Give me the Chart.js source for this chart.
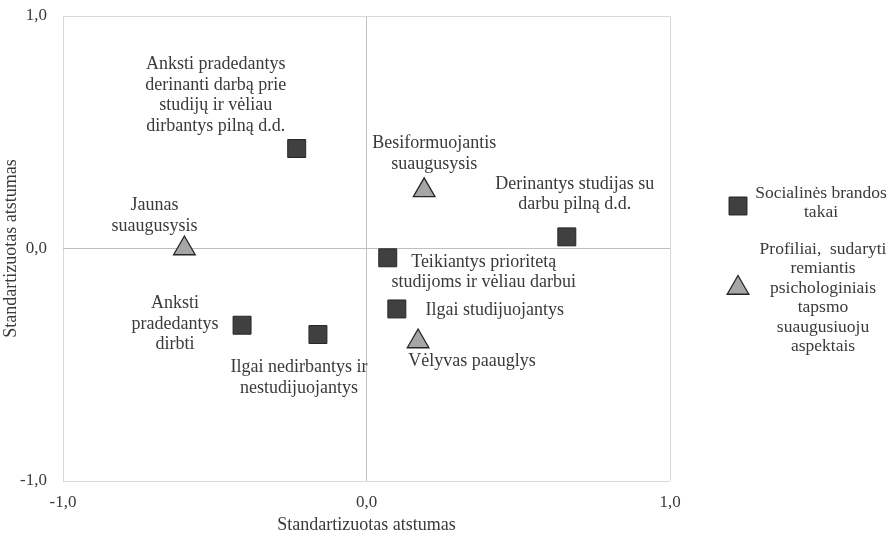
<!DOCTYPE html>
<html>
<head>
<meta charset="utf-8">
<script src="https://cdn.jsdelivr.net/npm/chart.js@4/dist/chart.umd.min.js"></script>
<style>
  html, body { margin: 0; padding: 0; background: #ffffff; }
  #wrap { width: 895px; height: 535px; position: relative; }
</style>
</head>
<body>
<div id="wrap"><canvas id="c" width="895" height="535"></canvas></div>
<script>
// Social maturity pathways (squares)
const socialNames = [
  "Anksti pradedantys\nderinanti darbą prie\nstudijų ir vėliau\ndirbantys pilną d.d.",
  "Derinantys studijas su\ndarbu pilną d.d.",
  "Teikiantys prioritetą\nstudijoms ir vėliau darbui",
  "Ilgai studijuojantys",
  "Anksti\npradedantys\ndirbti",
  "Ilgai nedirbantys ir\nnestudijuojantys"
];
const socialX = [-0.23, 0.66, 0.07, 0.10, -0.41, -0.16];
const socialY = [0.43, 0.05, -0.04, -0.26, -0.33, -0.37];

// Profiles based on psychological aspects of becoming an adult (triangles)
const psychNames = [
  "Jaunas\nsuaugusysis",
  "Besiformuojantis\nsuaugusysis",
  "Vėlyvas paauglys"
];
const psychX = [-0.60, 0.19, 0.17];
const psychY = [0.00, 0.25, -0.40];

const seriesNames = [
  "Socialinės brandos\ntakai",
  "Profiliai,  sudaryti\nremiantis\npsichologiniais\ntapsmo\nsuaugusiuoju\naspektais"
];
const axisTicks = [-1, 0, 1];
const axisTitle = "Standartizuotas atstumas";

// Label placement: pixel offset of the first text line centre from its point
const socialLabelOffsets = [[-81, -84], [8, -53], [96, 4], [98, 1], [-67, -22], [-19, 33]];
const psychLabelOffsets = [[-30, -43], [10, -47], [54, 20]];

const FONT = "'Liberation Serif', 'Times New Roman', serif";
const TEXT = "#3a3a3a";

const toPoints = (xs, ys) => xs.map((x, i) => ({ x: x, y: ys[i] }));

const pointLabels = {
  id: 'pointLabels',
  afterDatasetsDraw(chart) {
    const ctx = chart.ctx;
    ctx.save();
    ctx.font = "18px " + FONT;
    ctx.fillStyle = TEXT;
    ctx.textAlign = 'center';
    ctx.textBaseline = 'middle';
    const groups = [[socialNames, socialLabelOffsets, 0], [psychNames, psychLabelOffsets, 1]];
    groups.forEach(([names, offs, di]) => {
      const meta = chart.getDatasetMeta(di);
      meta.data.forEach((el, i) => {
        const lines = names[i].split("\n");
        lines.forEach((ln, k) => {
          ctx.fillText(ln, el.x + offs[i][0], el.y + offs[i][1] + k * 20.6);
        });
      });
    });
    ctx.restore();
  }
};

const sideLegend = {
  id: 'sideLegend',
  afterDraw(chart) {
    const ctx = chart.ctx;
    const a = chart.chartArea;
    ctx.save();
    const items = [
      { ds: chart.data.datasets[0], mx: a.right + 68, my: a.top + 190, tx: a.right + 151, ty: a.top + 177, lh: 19.5 },
      { ds: chart.data.datasets[1], mx: a.right + 68, my: a.top + 272, tx: a.right + 153, ty: a.top + 233, lh: 19.5 }
    ];
    items.forEach((it, idx) => {
      ctx.fillStyle = it.ds.backgroundColor;
      ctx.strokeStyle = it.ds.borderColor;
      ctx.lineWidth = it.ds.borderWidth;
      Chart.helpers.drawPoint(ctx, {
        pointStyle: it.ds.pointStyle,
        radius: it.ds.pointRadius,
        borderWidth: it.ds.borderWidth,
        rotation: 0
      }, it.mx, it.my);
      ctx.font = "17.5px " + FONT;
      ctx.fillStyle = TEXT;
      ctx.textAlign = 'center';
      ctx.textBaseline = 'middle';
      seriesNames[idx].split("\n").forEach((ln, k) => ctx.fillText(ln, it.tx, it.ty + k * it.lh));
    });
    ctx.restore();
  }
};

const gridColor = (c) => c.tick && c.tick.value === 0 ? '#bfbfbf' : '#d9d9d9';

new Chart(document.getElementById('c'), {
  type: 'scatter',
  data: {
    datasets: [
      {
        label: seriesNames[0],
        data: toPoints(socialX, socialY),
        pointStyle: 'rect',
        pointRadius: 12.7,
        pointHoverRadius: 12.7,
        backgroundColor: '#404040',
        borderColor: '#262626',
        borderWidth: 1
      },
      {
        label: seriesNames[1],
        data: toPoints(psychX, psychY),
        pointStyle: 'triangle',
        pointRadius: 12.5,
        pointHoverRadius: 12.5,
        backgroundColor: '#a6a6a6',
        borderColor: '#262626',
        borderWidth: 1.3
      }
    ]
  },
  options: {
    responsive: false,
    animation: false,
    events: [],
    layout: { padding: { left: 0, top: 16, right: 225, bottom: 0 } },
    plugins: { legend: { display: false }, tooltip: { enabled: false } },
    scales: {
      x: {
        type: 'linear',
        min: -1, max: 1,
        afterBuildTicks: (s) => { s.ticks = axisTicks.map(v => ({ value: v })); },
        afterFit: (s) => { s.height = 54; s.paddingLeft = 0; s.paddingRight = 0; },
        ticks: {
          padding: 11,
          color: TEXT,
          font: { family: FONT, size: 17 },
          callback: (v) => v.toFixed(1).replace('.', ',')
        },
        grid: { color: gridColor, lineWidth: 1, drawTicks: false },
        border: { display: false },
        title: {
          display: true, text: axisTitle, color: TEXT,
          font: { family: FONT, size: 18 },
          padding: { top: 0, bottom: -1 }
        }
      },
      y: {
        type: 'linear',
        min: -1, max: 1,
        afterBuildTicks: (s) => { s.ticks = axisTicks.map(v => ({ value: v })); },
        afterFit: (s) => { s.width = 63; s.paddingTop = 0; s.paddingBottom = 0; },
        ticks: {
          padding: 16,
          color: TEXT,
          font: { family: FONT, size: 17 },
          callback: (v) => v.toFixed(1).replace('.', ',')
        },
        grid: { color: gridColor, lineWidth: 1, drawTicks: false },
        border: { display: false },
        title: {
          display: true, text: axisTitle, color: TEXT,
          font: { family: FONT, size: 18 },
          padding: { top: 0, bottom: 0 }
        }
      }
    }
  },
  plugins: [pointLabels, sideLegend]
});
</script>
</body>
</html>
